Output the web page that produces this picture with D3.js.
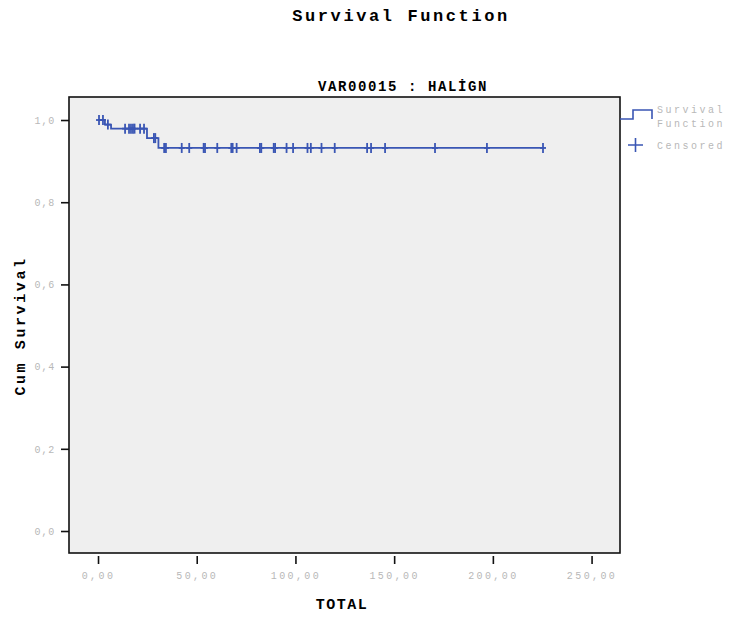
<!DOCTYPE html>
<html>
<head>
<meta charset="utf-8">
<script src="https://cdn.jsdelivr.net/npm/d3@7"></script>
<style>
  body { margin: 0; background: #ffffff; }
  svg { display: block; }
</style>
</head>
<body>
<svg></svg>
<script>
// Kaplan-Meier steps
const stepTimes = [0, 3.5, 6.6, 24.8, 30.6];
const stepSurv = [1.0, 0.989, 0.979, 0.956, 0.932];
const lastTime = 226;

// censored cases (time)
const censoredTimes = [
    0.5, 2.5, 5,
    13.7, 15.7, 16.7, 17.7, 18.5, 21.3, 23.3,
    28.3, 29,
    33.5, 34.4, 42.4, 46.2, 53.5, 54.2, 60.4, 67.5, 68.2, 70.2,
    82, 82.7, 89, 89.7, 95.5, 98.8, 106.1, 107.8, 113.2, 119.9,
    136.3, 138.3, 145.4, 170.7, 197, 225.4
];

const xTicks = [0, 50, 100, 150, 200, 250];
const yTicks = [0, 0.2, 0.4, 0.6, 0.8, 1.0];

const mono = "'Liberation Mono', 'Courier New', monospace";
const lineColor = '#3a56b4';
const labelGray = '#b8b8b8';

function survAt(t) {
    let s = stepSurv[0];
    for (let i = 0; i < stepTimes.length; i++) {
        if (stepTimes[i] <= t) s = stepSurv[i];
    }
    return s;
}

function drawChart() {
    let width = 729, height = 618;
    let frame = { left: 69, right: 620, top: 97, bottom: 553 };

    let svg = d3.select('svg')
        .attr('width', width)
        .attr('height', height);

    let x = d3.scaleLinear()
        .domain([-14.7, 264.4])
        .range([frame.left, frame.right]);

    let y = d3.scaleLinear()
        .domain([-0.0535, 1.056])
        .range([frame.bottom, frame.top]);

    // titles
    svg.append('text')
        .attr('x', 401).attr('y', 21)
        .attr('text-anchor', 'middle')
        .style('font-family', mono).style('font-weight', 'bold')
        .style('font-size', '17px').style('letter-spacing', '2.6px')
        .text('Survival Function');

    svg.append('text')
        .attr('x', 403).attr('y', 91)
        .attr('text-anchor', 'middle')
        .style('font-family', mono).style('font-weight', 'bold')
        .style('font-size', '14px').style('letter-spacing', '1.6px')
        .text('VAR00015 : HALİGN');

    // plot background
    svg.append('rect')
        .attr('x', frame.left).attr('y', frame.top)
        .attr('width', frame.right - frame.left)
        .attr('height', frame.bottom - frame.top)
        .attr('fill', '#efefef')
        .attr('stroke', '#111')
        .attr('stroke-width', 1.6);

    // y axis
    let yAxis = svg.append('g')
        .attr('class', 'y axis')
        .attr('transform', `translate(${frame.left}, 0)`)
        .call(d3.axisLeft(y).tickValues(yTicks).tickSize(8).tickPadding(6)
            .tickFormat(d => d3.format('.1f')(d).replace('.', ',')));
    yAxis.select('.domain').remove();
    yAxis.selectAll('line').attr('stroke', '#111').attr('stroke-width', 1.6);
    yAxis.selectAll('text')
        .attr('fill', labelGray)
        .style('font-family', mono).style('font-size', '10px')
        .style('letter-spacing', '0.8px');

    // x axis, ticks sit a little below the frame
    let xAxis = svg.append('g')
        .attr('class', 'x axis')
        .attr('transform', `translate(0, ${frame.bottom + 3})`)
        .call(d3.axisBottom(x).tickValues(xTicks).tickSize(8).tickPadding(8)
            .tickFormat(d => d3.format('.2f')(d).replace('.', ',')));
    xAxis.select('.domain').remove();
    xAxis.selectAll('line').attr('stroke', '#111').attr('stroke-width', 1.6);
    xAxis.selectAll('text')
        .attr('fill', labelGray)
        .style('font-family', mono).style('font-size', '10px')
        .style('letter-spacing', '2.4px');

    // axis titles
    svg.append('text')
        .attr('x', 342).attr('y', 609)
        .attr('text-anchor', 'middle')
        .style('font-family', mono).style('font-weight', 'bold')
        .style('font-size', '15px').style('letter-spacing', '1.5px')
        .text('TOTAL');

    svg.append('text')
        .attr('transform', 'translate(25, 326) rotate(-90)')
        .attr('text-anchor', 'middle')
        .style('font-family', mono).style('font-weight', 'bold')
        .style('font-size', '15px').style('letter-spacing', '2.6px')
        .text('Cum Survival');

    // survival step line
    let pts = stepTimes.map((t, i) => [t, stepSurv[i]]);
    pts.push([lastTime, stepSurv[stepSurv.length - 1]]);

    let line = d3.line()
        .x(d => x(d[0]))
        .y(d => y(d[1]))
        .curve(d3.curveStepAfter);

    svg.append('path')
        .datum(pts)
        .attr('d', line)
        .attr('fill', 'none')
        .attr('stroke', lineColor)
        .attr('stroke-width', 1.8);

    // censored marks
    let marks = svg.append('g').attr('class', 'censored');
    marks.selectAll('line.v')
        .data(censoredTimes)
        .enter().append('line')
        .attr('class', 'v')
        .attr('x1', d => x(d)).attr('x2', d => x(d))
        .attr('y1', d => y(survAt(d)) - 5)
        .attr('y2', d => y(survAt(d)) + 5)
        .attr('stroke', lineColor)
        .attr('stroke-width', 1.8);
    marks.selectAll('line.h')
        .data(censoredTimes)
        .enter().append('line')
        .attr('class', 'h')
        .attr('x1', d => x(d) - 3).attr('x2', d => x(d) + 3)
        .attr('y1', d => y(survAt(d)))
        .attr('y2', d => y(survAt(d)))
        .attr('stroke', lineColor)
        .attr('stroke-width', 1.8);

    // legend
    let legend = svg.append('g').attr('class', 'legend');
    legend.append('path')
        .attr('d', 'M620,119 H633 V110 H652 V119')
        .attr('fill', 'none')
        .attr('stroke', lineColor)
        .attr('stroke-width', 1.6);
    legend.append('path')
        .attr('d', 'M628,145 H643 M635.5,138 V152')
        .attr('fill', 'none')
        .attr('stroke', lineColor)
        .attr('stroke-width', 1.6);

    let legendText = [['Survival', 113], ['Function', 127], ['Censored', 149]];
    legend.selectAll('text')
        .data(legendText)
        .enter().append('text')
        .attr('x', 657)
        .attr('y', d => d[1])
        .attr('fill', labelGray)
        .style('font-family', mono).style('font-size', '10px')
        .style('letter-spacing', '2.5px')
        .text(d => d[0]);
}

drawChart();
</script>
</body>
</html>
